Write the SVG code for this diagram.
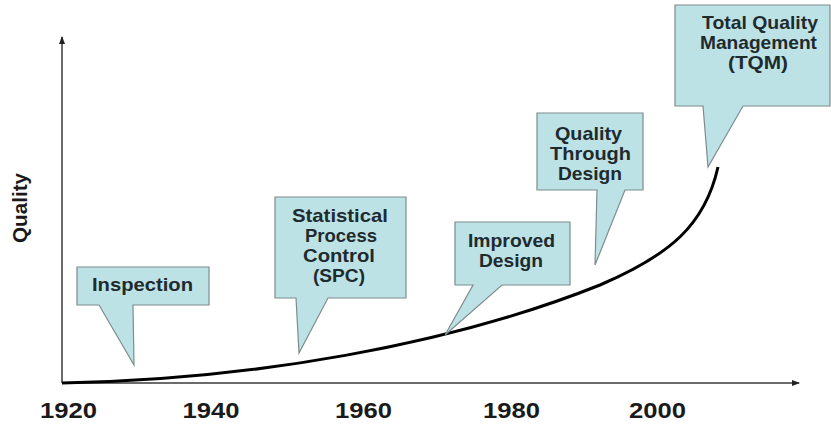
<svg xmlns="http://www.w3.org/2000/svg" width="831" height="425" viewBox="0 0 831 425">
<style>
.callout{fill:#bde2e5;stroke:#7d8c8e;stroke-width:1.2}
.lbl{font-family:"Liberation Sans",Arial,sans-serif;font-weight:bold;font-size:19px;fill:#1e2b2e;text-anchor:middle}
.yr{font-family:"Liberation Sans",Arial,sans-serif;font-weight:bold;font-size:22px;fill:#1a1a1a;text-anchor:middle}
.axis{stroke:#3a3a3a;stroke-width:1.5;fill:none}
</style>
<defs>
<marker id="ah" markerWidth="8" markerHeight="8" refX="7" refY="4" orient="auto" markerUnits="userSpaceOnUse">
<path d="M0,1 L8,4 L0,7 Z" fill="#222"/>
</marker>
</defs>
<rect width="831" height="425" fill="#fff"/>
<g id="connectors">
<line class="axis" x1="62" y1="383" x2="62" y2="37" marker-end="url(#ah)"/>
<line class="axis" x1="62" y1="383" x2="799" y2="383" marker-end="url(#ah)"/>
<path d="M62,383 C250,380 450,345 600,285 C670,255 705,225 718,167" fill="none" stroke="#000" stroke-width="3"/>
</g>
<g id="axis-labels">
<text class="yr" x="27" y="208" transform="rotate(-90 27 208)" font-size="20" textLength="70" lengthAdjust="spacingAndGlyphs" style="font-size:20px">Quality</text>
<text class="yr" x="68.5" y="418" textLength="57" lengthAdjust="spacingAndGlyphs">1920</text>
<text class="yr" x="211" y="418" textLength="57" lengthAdjust="spacingAndGlyphs">1940</text>
<text class="yr" x="363.5" y="418" textLength="57" lengthAdjust="spacingAndGlyphs">1960</text>
<text class="yr" x="511.5" y="418" textLength="57" lengthAdjust="spacingAndGlyphs">1980</text>
<text class="yr" x="657.5" y="418" textLength="57" lengthAdjust="spacingAndGlyphs">2000</text>
</g>
<g id="inspection">
<path class="callout" d="M77,267 H209 V305 H133 L134,365 L99,305 H77 Z"/>
<text class="lbl" x="142.5" y="291" textLength="101" lengthAdjust="spacingAndGlyphs">Inspection</text>
</g>
<g id="spc">
<path class="callout" d="M275,197 H406 V298 H328 L299,353 L296,298 H275 Z"/>
<text class="lbl" x="340" y="222" textLength="96" lengthAdjust="spacingAndGlyphs">Statistical</text>
<text class="lbl" x="341" y="242" textLength="72" lengthAdjust="spacingAndGlyphs">Process</text>
<text class="lbl" x="339" y="262" textLength="72" lengthAdjust="spacingAndGlyphs">Control</text>
<text class="lbl" x="339" y="282" textLength="52" lengthAdjust="spacingAndGlyphs">(SPC)</text>
</g>
<g id="improved-design">
<path class="callout" d="M455,222 H570 V285 H502 L445,335 L473,285 H455 Z"/>
<text class="lbl" x="511.5" y="247" textLength="87" lengthAdjust="spacingAndGlyphs">Improved</text>
<text class="lbl" x="511" y="267" textLength="64" lengthAdjust="spacingAndGlyphs">Design</text>
</g>
<g id="quality-through-design">
<path class="callout" d="M537,113 H643 V190 H625 L595,265 L597,190 H537 Z"/>
<text class="lbl" x="588.5" y="140" textLength="67" lengthAdjust="spacingAndGlyphs">Quality</text>
<text class="lbl" x="590.5" y="160" textLength="81" lengthAdjust="spacingAndGlyphs">Through</text>
<text class="lbl" x="590" y="180" textLength="64" lengthAdjust="spacingAndGlyphs">Design</text>
</g>
<g id="tqm">
<path class="callout" d="M675,5 H830 V106 H743 L708,167 L703,106 H675 Z"/>
<text class="lbl" x="760" y="29" textLength="116" lengthAdjust="spacingAndGlyphs">Total Quality</text>
<text class="lbl" x="758.5" y="49" textLength="117" lengthAdjust="spacingAndGlyphs">Management</text>
<text class="lbl" x="758" y="69" textLength="60" lengthAdjust="spacingAndGlyphs">(TQM)</text>
</g>
</svg>
